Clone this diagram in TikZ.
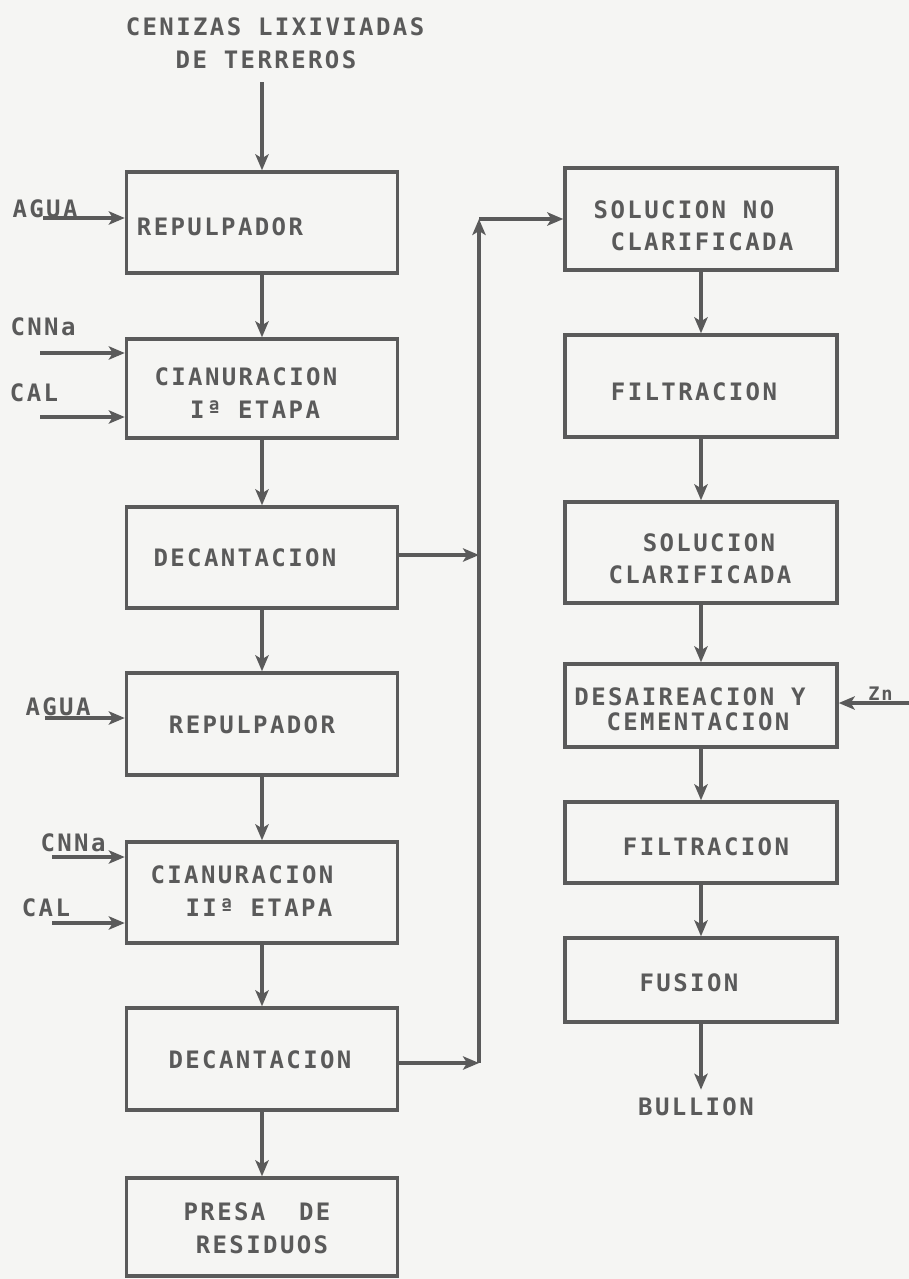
\documentclass[tikz,border=0pt]{standalone}
\usepackage{fontspec}
\newfontfamily\plotfont[LetterSpace=10]{DejaVu Sans Mono Bold}
\usetikzlibrary{arrows.meta}
\definecolor{ink}{HTML}{5A5A5A}
\definecolor{paper}{HTML}{F5F5F3}
\begin{document}
\begin{tikzpicture}[x=0.75pt,y=-0.75pt,
  box/.style={draw=ink,line width=2.6pt,minimum width=#1*0.75pt,inner sep=0pt},
  box/.default=271,
  txt/.style={text=ink,font=\plotfont\fontsize{18}{24}\selectfont,inner sep=0pt},
  arr/.style={draw=ink,line width=2.6pt,-{Stealth[length=12pt,width=10pt,inset=3pt]}},
  ln/.style={draw=ink,line width=2.6pt}]
\fill[paper] (0,0) rectangle (909,1279);
\useasboundingbox (0,0) rectangle (909,1279);

% left column boxes
\node[box,minimum height=101*0.75pt] (b1) at (262,222.5) {};
\node[box,minimum height=99*0.75pt]  (b2) at (262,388.5) {};
\node[box,minimum height=101*0.75pt] (b3) at (262,557.5) {};
\node[box,minimum height=102*0.75pt] (b4) at (262,724) {};
\node[box,minimum height=101*0.75pt] (b5) at (262,892.5) {};
\node[box,minimum height=102*0.75pt] (b6) at (262,1059) {};
\node[box,minimum height=98*0.75pt]  (b7) at (262,1227) {};

% right column boxes
\node[box=272,minimum height=102*0.75pt] (r1) at (701,219) {};
\node[box=272,minimum height=102*0.75pt] (r2) at (701,386) {};
\node[box=272,minimum height=101*0.75pt] (r3) at (701,552.5) {};
\node[box=272,minimum height=83*0.75pt]  (r4) at (701,705.5) {};
\node[box=272,minimum height=81*0.75pt]  (r5) at (701,842.5) {};
\node[box=272,minimum height=84*0.75pt]  (r6) at (701,980) {};

% texts inside boxes
\node[txt] (t1) at (220,227) {REPULPADOR};
\node[txt] (t2a) at (246,377) {CIANURACION};
\node[txt] (t2b) at (255,410) {Iª ETAPA};
\node[txt] (t3) at (245,558) {DECANTACION};
\node[txt] (t4) at (252,725) {REPULPADOR};
\node[txt] (t5a) at (242,875) {CIANURACION};
\node[txt] (t5b) at (259,908) {IIª ETAPA};
\node[txt] (t6) at (260,1060) {DECANTACION};
\node[txt] (t7a) at (257,1212) {PRESA\ \ DE};
\node[txt] (t7b) at (262,1245) {RESIDUOS};

\node[txt] (u1a) at (684,210) {SOLUCION NO};
\node[txt] (u1b) at (702,242) {CLARIFICADA};
\node[txt] (u2) at (694,392) {FILTRACION};
\node[txt] (u3a) at (709,543) {SOLUCION};
\node[txt] (u3b) at (700,575) {CLARIFICADA};
\node[txt] (u4a) at (690,697) {DESAIREACION Y};
\node[txt] (u4b) at (698,722) {CEMENTACION};
\node[txt] (u5) at (706,847) {FILTRACION};
\node[txt] (u6) at (689,983) {FUSION};

% outside labels
\node[txt] (top1) at (275,27) {CENIZAS LIXIVIADAS};
\node[txt] (top2) at (266,60) {DE TERREROS};
\node[txt] (agua1) at (45,209) {AGUA};
\node[txt] (cnna1) at (43,327) {CNNa};
\node[txt] (cal1) at (34,393) {CAL};
\node[txt] (agua2) at (58,707) {AGUA};
\node[txt] (cnna2) at (73,843) {CNNa};
\node[txt] (cal2) at (46,908) {CAL};
\node[txt,font=\plotfont\fontsize{14}{18}\selectfont,anchor=base west] (zn) at (868,700) {Zn};
\node[txt,inner sep=6pt] (bullion) at (696,1107) {BULLION};

% free ends
\coordinate (feed) at (262,82);
\coordinate (sa1) at (43,218);
\coordinate (sc1) at (40,353);
\coordinate (sl1) at (40,417);
\coordinate (sa2) at (45,718);
\coordinate (sc2) at (52,857);
\coordinate (sl2) at (52,923);
\coordinate (jx1) at (479,555);
\coordinate (jx2) at (479,1063);
\coordinate (jtop) at (479,219);
\coordinate (szn) at (909,703);

% left column flow
\draw[arr] (feed) -- (b1.north);
\draw[arr] (sa1) -- (sa1 -| b1.west);
\draw[arr] (b1) -- (b2);
\draw[arr] (sc1) -- (sc1 -| b2.west);
\draw[arr] (sl1) -- (sl1 -| b2.west);
\draw[arr] (b2) -- (b3);
\draw[arr] (b3) -- (b4);
\draw[arr] (sa2) -- (sa2 -| b4.west);
\draw[arr] (b4) -- (b5);
\draw[arr] (sc2) -- (sc2 -| b5.west);
\draw[arr] (sl2) -- (sl2 -| b5.west);
\draw[arr] (b5) -- (b6);
\draw[arr] (b6) -- (b7);

% decant overflow to right column
\draw[arr] (jx1 -| b3.east) -- (jx1);
\draw[arr] (jx2 -| b6.east) -- (jx2);
\draw[arr] (jx2) -- (jtop);
\draw[arr] (jtop) -- (r1.west);

% right column flow
\draw[arr] (r1) -- (r2);
\draw[arr] (r2) -- (r3);
\draw[arr] (r3) -- (r4);
\draw[arr] (szn) -- (szn -| r4.east);
\draw[arr] (r4) -- (r5);
\draw[arr] (r5) -- (r6);
\draw[arr] (r6.south) -- (r6.south |- bullion.north);
\end{tikzpicture}
\end{document}
